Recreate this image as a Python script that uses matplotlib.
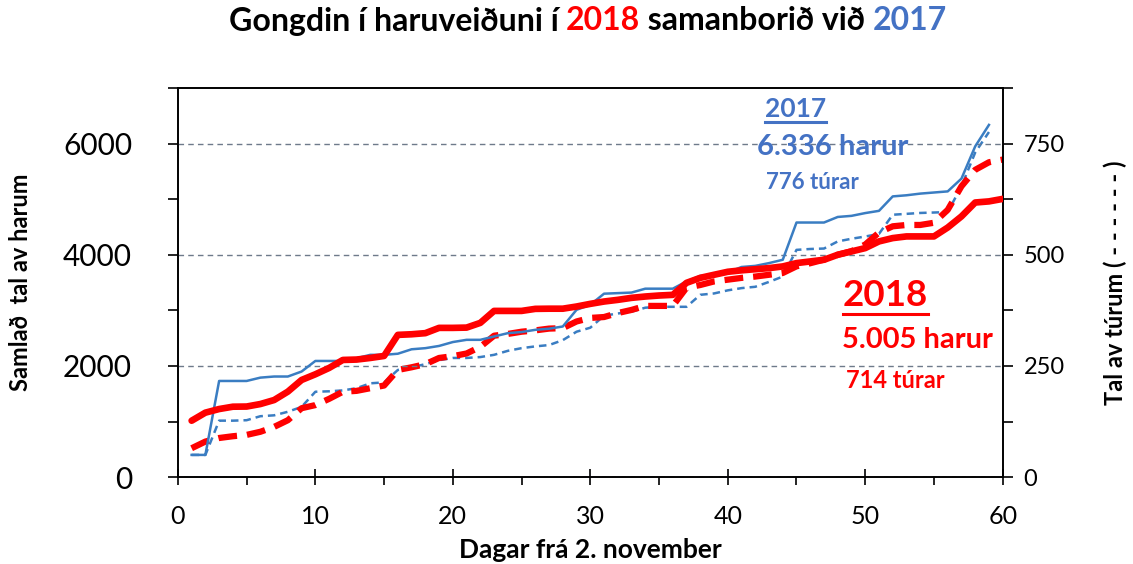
import matplotlib
matplotlib.use('Agg')
import matplotlib.pyplot as plt
from matplotlib.lines import Line2D
from matplotlib.ticker import MultipleLocator

plt.rcParams['font.family'] = ['Lato', 'DejaVu Sans']

# cumulative hares and trips, day by day from 2 November
days_2017 = list(range(1, 60))
harur_2017 = [400, 400, 1730, 1730, 1730, 1790, 1810, 1810, 1900, 2090,
              2090, 2090, 2140, 2200, 2200, 2220, 2300, 2320, 2360, 2430,
              2470, 2470, 2530, 2590, 2610, 2650, 2670, 2710, 3010, 3100,
              3300, 3310, 3320, 3390, 3390, 3390, 3520, 3620, 3640, 3680,
              3780, 3800, 3850, 3910, 4580, 4580, 4580, 4680, 4700, 4750,
              4790, 5050, 5070, 5100, 5120, 5140, 5370, 5950, 6336]
turar_2017 = [50, 50, 127, 127, 128, 137, 139, 147, 158, 192,
              193, 195, 200, 211, 213, 241, 247, 254, 263, 268,
              268, 270, 275, 284, 290, 294, 297, 308, 327, 336,
              363, 368, 372, 381, 383, 383, 383, 410, 413, 420,
              425, 428, 439, 451, 511, 513, 514, 530, 536, 541,
              547, 590, 592, 594, 595, 596, 654, 730, 776]

days_2018 = list(range(1, 61))
harur_2018 = [1015, 1160, 1225, 1267, 1270, 1315, 1387, 1538, 1748, 1850,
              1964, 2108, 2115, 2144, 2180, 2559, 2570, 2590, 2685, 2685,
              2690, 2775, 2990, 2990, 2990, 3027, 3030, 3030, 3069, 3117,
              3159, 3189, 3225, 3249, 3267, 3279, 3495, 3585, 3640, 3694,
              3720, 3740, 3760, 3790, 3850, 3880, 3910, 4000, 4060, 4120,
              4240, 4300, 4330, 4330, 4330, 4490, 4690, 4940, 4960, 5005]
turar_2018 = [65, 80, 88, 92, 95, 102, 113, 128, 155, 162,
              176, 192, 194, 200, 206, 241, 247, 254, 268, 272,
              278, 293, 318, 322, 327, 330, 334, 335, 350, 358,
              360, 369, 376, 385, 385, 385, 426, 432, 440, 444,
              448, 451, 455, 459, 474, 481, 489, 500, 508, 523,
              550, 564, 567, 567, 572, 601, 654, 691, 708, 714]

blue = '#3a7dc2'
blue_txt = '#4472c4'
red = '#ff0000'

fig = plt.figure(figsize=(11.33, 5.64), dpi=100)
ax = fig.add_axes([0.157, 0.154, 0.728, 0.69])
ax2 = ax.twinx()

ax.plot(days_2017, harur_2017, color=blue, lw=1.8, zorder=3)
ax2.plot(days_2017, turar_2017, color=blue, lw=1.8, dashes=(3, 2))
ax.plot(days_2018, harur_2018, color=red, lw=4.8, zorder=4, solid_capstyle='round')
ax2.plot(days_2018, turar_2018, color=red, lw=4.5, dashes=(3, 1.6))

ax.set_xlim(0, 60)
ax.set_ylim(0, 7000)
ax2.set_ylim(0, 875)
ax.set_zorder(ax2.get_zorder() + 1)
ax.patch.set_visible(False)

ax.xaxis.set_major_locator(MultipleLocator(10))
ax.xaxis.set_minor_locator(MultipleLocator(5))
ax.yaxis.set_major_locator(MultipleLocator(2000))
ax.yaxis.set_minor_locator(MultipleLocator(1000))
ax2.yaxis.set_major_locator(MultipleLocator(250))
ax2.yaxis.set_minor_locator(MultipleLocator(125))

ax.tick_params(axis='x', which='major', direction='inout', length=12, width=1.2, labelsize=18, pad=14)
ax.tick_params(axis='x', which='minor', direction='out', length=6, width=1.2)
ax.tick_params(axis='y', which='major', direction='out', length=7, width=1.2, labelsize=21.5, pad=26)
ax.tick_params(axis='y', which='minor', direction='out', length=7, width=1.2)
ax2.tick_params(axis='y', which='major', direction='out', length=7, width=1.2, labelsize=17, pad=8)
ax2.tick_params(axis='y', which='minor', direction='out', length=7, width=1.2)

for a in (ax, ax2):
    for s in a.spines.values():
        s.set_linewidth(1.2)

ax.grid(axis='y', which='major', color='#6e7a8a', ls=(0, (4, 3)), lw=1)

ax.set_xlabel('Dagar frá 2. november', fontsize=19, fontweight='bold', labelpad=7)
ax.set_ylabel('Samlað  tal av harum', fontsize=17, fontweight='bold', labelpad=22)
ax2.set_ylabel('Tal av túrum ( - - - - - - )', fontsize=17, fontweight='bold', labelpad=28)

fig.canvas.draw()
renderer = fig.canvas.get_renderer()


def text_underlined(x, y, s, color, size, underline=False):
    t = fig.text(x, y, s, color=color, fontsize=size, fontweight='bold', ha='left', va='center')
    if underline:
        bb = t.get_window_extent(renderer).transformed(fig.transFigure.inverted())
        yl = bb.y0 - 0.002
        fig.add_artist(Line2D([bb.x0, bb.x1], [yl, yl], transform=fig.transFigure,
                              color=color, lw=2.2))
    return t


text_underlined(765 / 1133, 1 - 109 / 564, '2017', blue_txt, 19, underline=True)
text_underlined(757 / 1133, 1 - 147 / 564, '6.336 harur', blue_txt, 21)
text_underlined(766 / 1133, 1 - 182 / 564, '776 túrar', blue_txt, 16)
text_underlined(843 / 1133, 1 - 296 / 564, '2018', red, 26.5, underline=True)
text_underlined(842 / 1133, 1 - 340 / 564, '5.005 harur', red, 21)
text_underlined(846 / 1133, 1 - 381 / 564, '714 túrar', red, 17)

# title with coloured years
parts = [('Gongdin í haruveiðuni í ', 'black'), ('2018', red),
         (' samanborið við ', 'black'), ('2017', blue_txt)]
texts = []
x = 0
for s, c in parts:
    t = fig.text(x, 1 - 21 / 564, s, color=c, fontsize=23, fontweight='bold', ha='left', va='center')
    texts.append(t)
    bb = t.get_window_extent(renderer).transformed(fig.transFigure.inverted())
    x += bb.width
start = 588 / 1133 - x / 2
for t in texts:
    bb = t.get_window_extent(renderer).transformed(fig.transFigure.inverted())
    t.set_x(start)
    start += bb.width

fig.savefig('out.png', dpi=100)
